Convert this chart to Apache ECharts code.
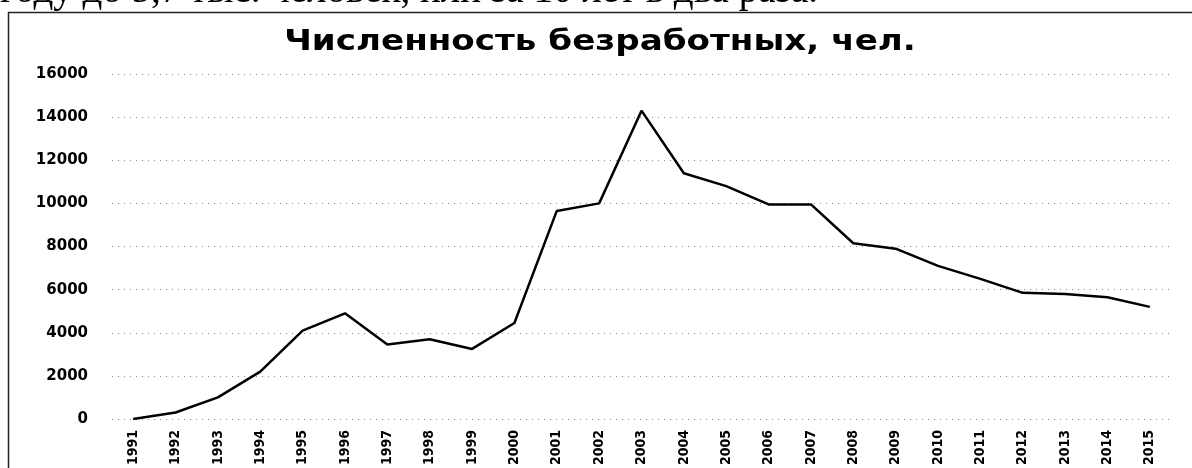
<!DOCTYPE html>
<html><head><meta charset="utf-8">
<script src="https://cdn.jsdelivr.net/npm/echarts@6/dist/echarts.min.js"></script>
<style>html,body{margin:0;padding:0;background:#fff}#c{width:1192px;height:468px}</style>
</head><body><div id="c"></div>
<script>
const years = ['1991','1992','1993','1994','1995','1996','1997','1998','1999','2000','2001','2002','2003','2004','2005','2006','2007','2008','2009','2010','2011','2012','2013','2014','2015'];
const unemployed = [0,300,1000,2200,4100,4900,3450,3700,3250,4450,9650,10000,14300,11400,10800,9950,9950,8150,7900,7100,6500,5850,5800,5650,5200];
const yTicks = [0,2000,4000,6000,8000,10000,12000,14000,16000];
const titleText = 'Численность безработных, чел.';
const topText = 'году до 5,7 тыс. человек, или за 10 лет в два раза.';

const chart = echarts.init(document.getElementById('c'));
chart.setOption({
  backgroundColor: '#fff',
  animation: false,
  graphic: [
    {type: 'text', left: 0, top: -28, style: {text: topText, font: '39px "Liberation Serif"', fill: '#000'}},
    {type: 'text', x: 600, y: 43, scaleX: 1.22, style: {text: titleText, font: 'bold 28px "DejaVu Sans"', fill: '#000', align: 'center', verticalAlign: 'middle'}},
    {type: 'line', shape: {x1: 8, y1: 12.5, x2: 1192, y2: 12.5}, style: {stroke: '#222', lineWidth: 1.5}},
    {type: 'line', shape: {x1: 8.5, y1: 12, x2: 8.5, y2: 468}, style: {stroke: '#222', lineWidth: 1.5}}
  ],
  grid: {left: 112, right: 21, top: 74, bottom: 49, containLabel: false, outerBoundsMode: 'none'},
  xAxis: {
    type: 'category', data: years, boundaryGap: true,
    axisLine: {show: false}, axisTick: {show: false},
    axisLabel: {rotate: 90, margin: 11, fontFamily: '"Liberation Sans Narrow","DejaVu Sans Condensed"', fontWeight: 'bold', fontSize: 14, color: '#000'}
  },
  yAxis: {
    type: 'value', min: yTicks[0], max: yTicks[yTicks.length-1], interval: 2000,
    axisLine: {show: false}, axisTick: {show: false},
    axisLabel: {margin: 24, fontFamily: 'DejaVu Sans', fontWeight: 'bold', fontSize: 15, color: '#000', formatter: v => String(v)},
    splitLine: {lineStyle: {type: [1, 5], color: '#888', width: 1}}
  },
  series: [{
    type: 'line', data: unemployed, symbol: 'none',
    lineStyle: {color: '#000', width: 2.5}
  }]
});
</script></body></html>
